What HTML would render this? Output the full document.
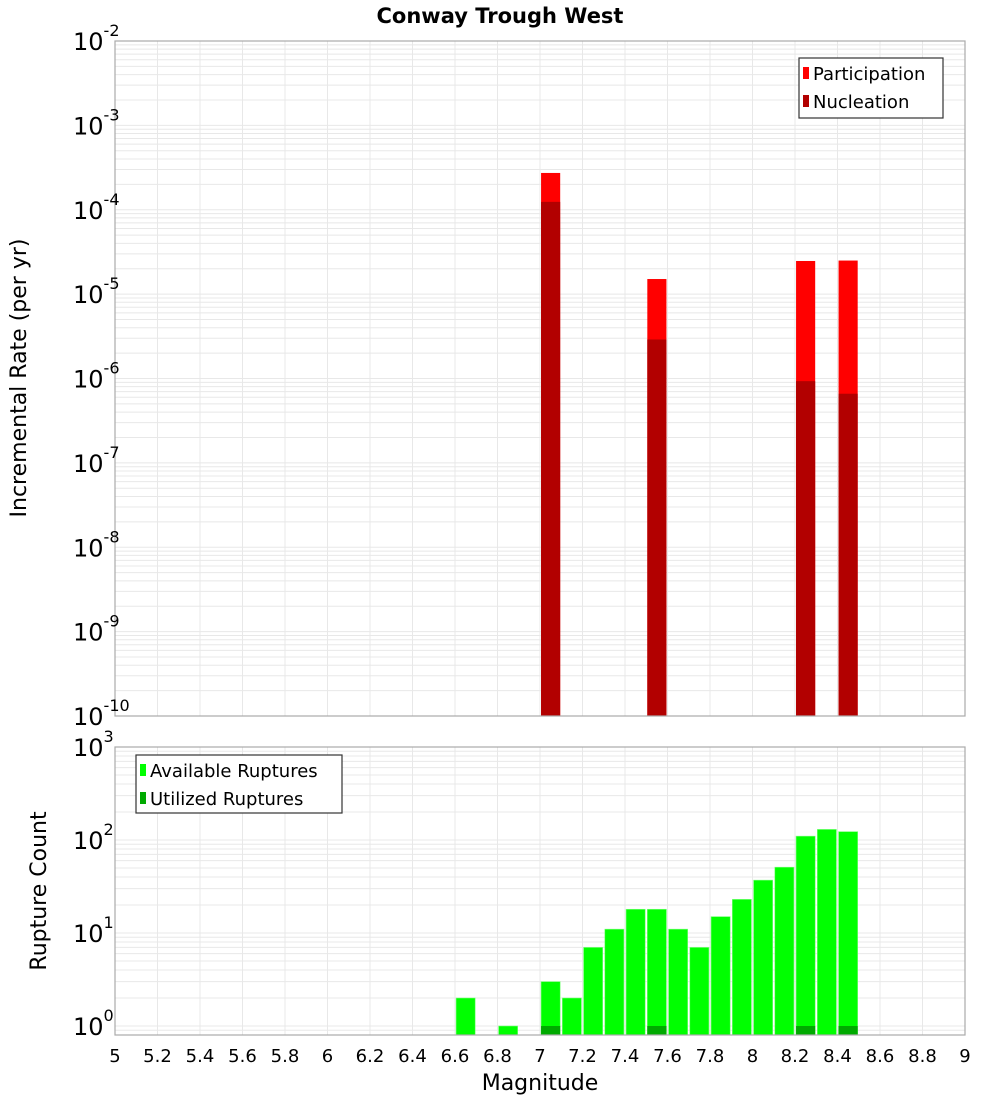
<!DOCTYPE html>
<html><head><meta charset="utf-8"><style>
body{margin:0;background:#fff;}
svg{display:block;font-family:"DejaVu Sans","Liberation Sans",sans-serif;}
</style></head><body>
<svg id="c" width="1000" height="1100" xmlns="http://www.w3.org/2000/svg">
<text x="500" y="23" text-anchor="middle" font-size="21" font-weight="bold">Conway Trough West</text>
<g id="topPlot"></g>
<g id="botPlot"></g>
<text transform="translate(26,378) rotate(-90)" text-anchor="middle" font-size="22">Incremental Rate (per yr)</text>
<text transform="translate(46,891) rotate(-90)" text-anchor="middle" font-size="22">Rupture Count</text>
<text x="540" y="1090" text-anchor="middle" font-size="22">Magnitude</text>
</svg>
<script>
const rateMags=[7.05,7.55,8.25,8.45];
const participation=[2.73e-4,1.51e-5,2.47e-5,2.5e-5];
const nucleation=[1.24e-4,2.9e-6,9.3e-7,6.6e-7];
const countMags=[6.65,6.85,7.05,7.15,7.25,7.35,7.45,7.55,7.65,7.75,7.85,7.95,8.05,8.15,8.25,8.35,8.45];
const available=[2,1,3,2,7,11,18,18,11,7,15,23,37,51,110,130,123];
const utilizedMags=[7.05,7.55,8.25,8.45];
const utilized=[1,1,1,1];
const xTicks=[5,5.2,5.4,5.6,5.8,6,6.2,6.4,6.6,6.8,7,7.2,7.4,7.6,7.8,8,8.2,8.4,8.6,8.8,9];
const topExps=[-2,-3,-4,-5,-6,-7,-8,-9,-10];
const botExps=[3,2,1,0];

const NS="http://www.w3.org/2000/svg";
const X0=115,X1=965;
const xs=m=>X0+(m-5)/4*(X1-X0);
const yTop=v=>41+(-2-Math.log10(v))*84.375;
const yBot=v=>1026-Math.log10(v)*93;
function mk(parent,tag,attrs){const e=document.createElementNS(NS,tag);for(const k in attrs)e.setAttribute(k,attrs[k]);parent.appendChild(e);return e;}

function frame(g,yA,yB,yfn,lo,hi){
  for(let d=lo;d<hi;d++)for(let m=1;m<10;m++){
    const y=yfn(m*Math.pow(10,d));
    if(y<yA-0.5||y>yB+0.5)continue;
    const l=mk(g,'line',{x1:X0,x2:X1,y1:y,y2:y,stroke:'#e8e8e8','stroke-width':1});
    
    
  }
  xTicks.forEach(t=>{
    const l=mk(g,'line',{x1:xs(t),x2:xs(t),y1:yA,y2:yB,stroke:'#e8e8e8','stroke-width':1});
    
    
  });
}
function border(g,yA,yB){
  const r=mk(g,'rect',{x:X0,y:yA,width:X1-X0,height:yB-yA,fill:'none',stroke:'#aaa','stroke-width':1.2});
  
  
}
function ylab(g,y,exp){
  const t=mk(g,'text',{x:73,y:y+9,'text-anchor':'start','font-size':24});
  
  
  const a=document.createElementNS(NS,'tspan');a.textContent='10';t.appendChild(a);
  const b=document.createElementNS(NS,'tspan');b.setAttribute('dy','-14');b.setAttribute('font-size','16');b.textContent=exp;t.appendChild(b);
}
const bw=0.09;
const gTop=document.getElementById('topPlot');
frame(gTop,41,716,yTop,-10,-2);
rateMags.forEach((m,i)=>{
  const r=mk(gTop,'rect',{x:xs(m-bw/2),width:xs(m+bw/2)-xs(m-bw/2),y:yTop(participation[i]),height:716-yTop(participation[i]),fill:'#ff0000'});
  
  
  const n=mk(gTop,'rect',{x:xs(m-bw/2),width:xs(m+bw/2)-xs(m-bw/2),y:yTop(nucleation[i]),height:716-yTop(nucleation[i]),fill:'#b20000'});
  
  
});
border(gTop,41,716);
topExps.forEach(e=>ylab(gTop,yTop(Math.pow(10,e)),e));
const lg=mk(gTop,'g',{});


mk(lg,'rect',{x:799,y:58,width:144,height:60,fill:'#fff',stroke:'#333','stroke-width':1.2});
mk(lg,'rect',{x:803,y:67,width:6,height:12,fill:'#ff0000'});
mk(lg,'rect',{x:803,y:95,width:6,height:12,fill:'#b20000'});
let t1=mk(lg,'text',{x:813,y:80,'font-size':18});t1.textContent='Participation';
let t2=mk(lg,'text',{x:813,y:108,'font-size':18});t2.textContent='Nucleation';
const gBot=document.getElementById('botPlot');
frame(gBot,747,1035,yBot,-1,3);
countMags.forEach((m,i)=>{
  const r=mk(gBot,'rect',{x:xs(m-bw/2),width:xs(m+bw/2)-xs(m-bw/2),y:yBot(available[i]),height:1035-yBot(available[i]),fill:'#00ff00',stroke:'#7dff7d','stroke-width':0.6});
  
  
});
utilizedMags.forEach((m,i)=>{
  const r=mk(gBot,'rect',{x:xs(m-bw/2),width:xs(m+bw/2)-xs(m-bw/2),y:yBot(utilized[i]),height:1035-yBot(utilized[i]),fill:'#00aa00'});
  
  
});
border(gBot,747,1035);
botExps.forEach(e=>ylab(gBot,yBot(Math.pow(10,e)),e));
xTicks.forEach(t=>{
  const tx=mk(gBot,'text',{x:xs(t),y:1062,'text-anchor':'middle','font-size':18});
  
  
  tx.textContent=String(t);
});
const lb=mk(gBot,'g',{});


mk(lb,'rect',{x:136,y:755,width:206,height:58,fill:'#fff',stroke:'#333','stroke-width':1.2});
mk(lb,'rect',{x:140,y:764,width:6,height:12,fill:'#00ff00'});
mk(lb,'rect',{x:140,y:792,width:6,height:12,fill:'#00aa00'});
let t3=mk(lb,'text',{x:150,y:777,'font-size':18});t3.textContent='Available Ruptures';
let t4=mk(lb,'text',{x:150,y:805,'font-size':18});t4.textContent='Utilized Ruptures';
</script>
</body></html>
